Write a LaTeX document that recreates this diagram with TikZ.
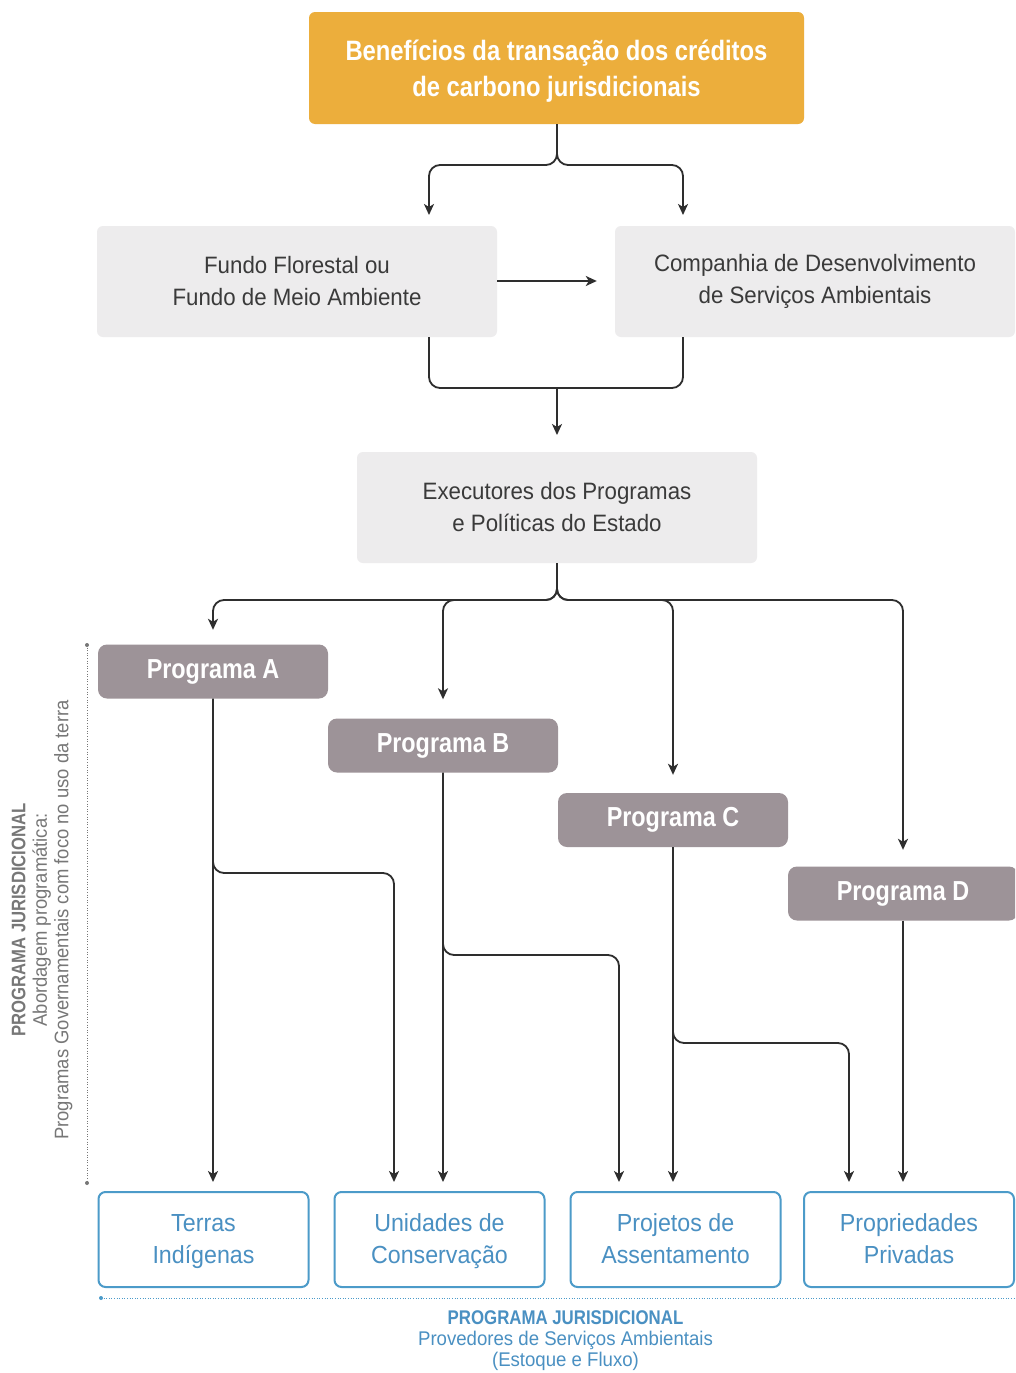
\documentclass[tikz,border=0pt]{standalone}
\usepackage{fontspec}
\setmainfont{Liberation Sans}
\newfontfamily\rg[FakeStretch=0.94]{Liberation Sans}
\newfontfamily\bd[FakeStretch=0.85]{Liberation Sans}
\usetikzlibrary{arrows.meta}
\definecolor{orangeT}{HTML}{ECAE3C}
\definecolor{grayBox}{HTML}{EDECED}
\definecolor{txtDark}{HTML}{3A3A3A}
\definecolor{progC}{HTML}{9D9398}
\definecolor{blueL}{HTML}{4C9BC9}
\definecolor{blueT}{HTML}{4A90C2}
\definecolor{lineC}{HTML}{2E2E2E}
\definecolor{grayLbl}{HTML}{777777}
\newcommand{\lfA}{\rule{0pt}{24pt}}
\newcommand{\lfB}{\rule[-8pt]{0pt}{8pt}}
\newcommand{\pgS}{\rule{0pt}{24pt}}
\tikzset{
  titlebox/.style={fill=orangeT, rounded corners=6pt, minimum width=495pt, minimum height=112pt, align=center, text=white, font=\bd\bfseries\fontsize{28}{36}\selectfont},
  graybox/.style={fill=grayBox, rounded corners=6pt, minimum width=400pt, minimum height=111pt, align=center, text=txtDark, font=\rg\fontsize{23.7}{32}\selectfont},
  progbox/.style={fill=progC, rounded corners=9pt, minimum width=230pt, minimum height=54pt, text=white, font=\bd\bfseries\fontsize{27.5}{32}\selectfont},
  leafbox/.style={draw=blueL, line width=2pt, fill=white, rounded corners=7pt, minimum width=210pt, minimum height=95pt, align=center, text=blueT, font=\rg\fontsize{24.7}{32}\selectfont},
  conn/.style={draw=lineC, line width=1.8pt, rounded corners=11pt},
  arr/.style={conn, -{Stealth[length=11pt,width=10pt,inset=3pt]}},
  sidelbl/.style={rotate=90, align=center, text=grayLbl, font=\rg\fontsize{19.6}{21.5}\selectfont},
  caplbl/.style={align=center, text=blueT, font=\rg\fontsize{19.8}{21}\selectfont}
}
\begin{document}
\begin{tikzpicture}[x=1pt,y=-1pt]
\useasboundingbox (0,0) rectangle (1015,1373);
\fill[white] (0,0) rectangle (1015,1373);
\clip (0,0) rectangle (1015,1373);

% nodes
\node[titlebox] (ben) at (556.5,68) {\rule{0pt}{27pt}Benefícios da transação dos créditos\\de carbono jurisdicionais};
\node[graybox] (fundo) at (297,281.5) {Fundo Florestal ou\\Fundo de Meio Ambiente};
\node[graybox] (comp) at (815,281.5) {Companhia de Desenvolvimento\\de Serviços Ambientais};
\node[graybox] (exec) at (557,507.5) {Executores dos Programas\\e Políticas do Estado};
\node[progbox] (pa) at (213,671.5) {Programa A};
\node[progbox] (pb) at (443,745.5) {Programa B};
\node[progbox] (pc) at (673,820) {Programa C};
\node[progbox] (pd) at (903,893.5) {Programa D};
\node[leafbox] (ti) at (203.5,1239.5) {\lfA Terras\\Indígenas\lfB};
\node[leafbox] (uc) at (439.5,1239.5) {\lfA Unidades de\\Conservação\lfB};
\node[leafbox] (pj) at (675.5,1239.5) {\lfA Projetos de\\Assentamento\lfB};
\node[leafbox] (pp) at (909,1239.5) {\lfA Propriedades\\Privadas\lfB};

% coordinates
\coordinate (tj) at (557,165);
\coordinate (tl) at (429,215);
\coordinate (tr) at (683,215);
\coordinate (fy) at (0,281);
\coordinate (mj) at (557,388);
\coordinate (me) at (557,435);
\coordinate (ej) at (557,600);
\coordinate (ya) at (0,873);
\coordinate (xa) at (394,0);
\coordinate (yb) at (0,955);
\coordinate (xb) at (619,0);
\coordinate (yc) at (0,1043);
\coordinate (xc) at (849,0);

% top brace
\draw[arr] (ben.south -| tj) -- (tj) -- (tj -| tl) -- (tl);
\draw[arr] (ben.south -| tj) -- (tj) -- (tj -| tr) -- (tr);
% fundo -> companhia
\draw[arr, shorten >=18pt] (fundo.east |- fy) -- (comp.west |- fy);
% join to executores
\draw[conn] (fundo.south -| tl) -- (tl |- mj) -- (tr |- mj) -- (comp.south -| tr);
\draw[arr] (mj) -- (me);
% executores -> programas
\draw[arr, shorten >=14.5pt] (exec.south) -- (ej) -- (ej -| pa) -- (pa.north);
\draw[arr, shorten >=19pt] (exec.south) -- (ej) -- (ej -| pb) -- (pb.north);
\draw[arr, shorten >=18pt] (exec.south) -- (ej) -- (ej -| pc) -- (pc.north);
\draw[arr, shorten >=16.5pt] (exec.south) -- (ej) -- (ej -| pd) -- (pd.north);
% programas -> provedores
\draw[arr, shorten >=9pt] (pa.south) -- (pa.south |- ti.north);
\draw[arr, shorten >=9pt] (pa.south) -- (pa |- ya) -- (xa |- ya) -- (xa |- uc.north);
\draw[arr, shorten >=9pt] (pb.south) -- (pb.south |- uc.north);
\draw[arr, shorten >=9pt] (pb.south) -- (pb |- yb) -- (xb |- yb) -- (xb |- pj.north);
\draw[arr, shorten >=9pt] (pc.south) -- (pc.south |- pj.north);
\draw[arr, shorten >=9pt] (pc.south) -- (pc |- yc) -- (xc |- yc) -- (xc |- pp.north);
\draw[arr, shorten >=9pt] (pd.south) -- (pd.south |- pp.north);

% side dotted line and label
\coordinate (vs) at (87,645);
\coordinate (ve) at (87,1183);
\draw[grayLbl, line width=0.9pt, dash pattern=on 1pt off 1.6pt] (vs) -- (ve);
\fill[grayLbl] (vs) circle (2pt);
\fill[grayLbl] (ve) circle (2pt);
\node[sidelbl] (side) at (42,920) {{\bfseries\bd PROGRAMA JURISDICIONAL}\\Abordagem programática:\\Programas Governamentais com foco no uso da terra};

% bottom dotted line and caption
\coordinate (hs) at (101,1298);
\coordinate (he) at (1015,1298);
\draw[blueL, line width=0.9pt, dash pattern=on 1pt off 1.6pt] (hs) -- (he);
\fill[blueL] (hs) circle (2pt);
\node[caplbl] (cap) at (565.5,1341) {{\bfseries\bd PROGRAMA JURISDICIONAL}\\Provedores de Serviços Ambientais\\(Estoque e Fluxo)};
\end{tikzpicture}
\end{document}
